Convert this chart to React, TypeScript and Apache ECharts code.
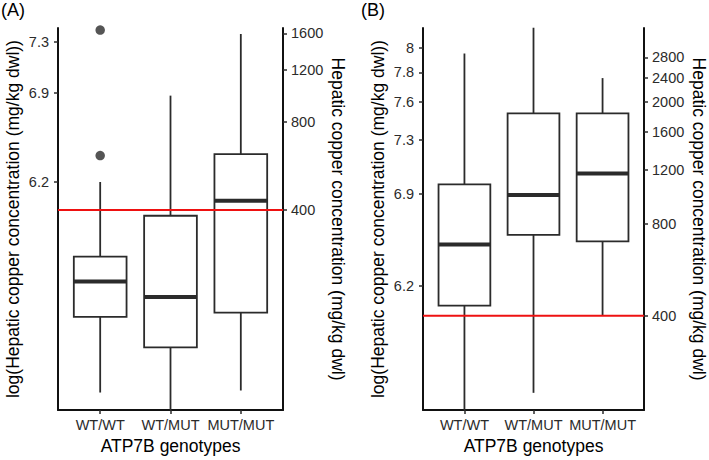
import React, { useEffect, useRef } from "react";
import * as echarts from "echarts";

const CATEGORIES = ["WT/WT", "WT/MUT", "MUT/MUT"];
// [categoryPosition, lowerWhisker, Q1, median, Q3, upperWhisker] in ln(mg/kg dwl)
const BOX_A = [
  [1, 4.558, 5.152, 5.43, 5.625, 6.211],
  [2, 4.42, 4.912, 5.308, 5.946, 6.889],
  [3, 4.574, 5.186, 6.063, 6.43, 7.373],
];
const OUTLIERS_A = [
  [1, 7.404],
  [1, 6.418],
];
const BOX_B = [
  [1, 5.28, 6.069, 6.529, 6.981, 7.966],
  [2, 5.412, 6.601, 6.901, 7.516, 8.16],
  [3, 5.994, 6.552, 7.062, 7.516, 7.781],
];
const OUTLIERS_B: number[][] = [];
const RANGE_A = [4.42, 7.42];
const RANGE_B = [5.282, 8.158];
const LEFT_TICKS_A = [500, 1000, 1500];
const LEFT_TICKS_B = [500, 1000, 1500, 2000, 2500, 3000];
const RIGHT_TICKS_A = [400, 800, 1200, 1600];
const RIGHT_TICKS_B = [400, 800, 1200, 1600, 2000, 2400, 2800];
const THRESHOLD = 400;

const FONT = "Liberation Sans, Arial, sans-serif";
const DARK = "#2b2b2b";

function panel(idx: number, box: number[][], outliers: number[][], range: number[], leftTicks: number[], rightTicks: number[]) {
  const tickStyle = { show: true, length: 4, lineStyle: { color: DARK, width: 1.5 } };
  const axisLineStyle = { show: true, lineStyle: { color: "#111", width: 2 } };
  const labelStyle = { fontSize: 14.5, color: DARK, fontFamily: FONT };
  const nameStyle = { fontSize: 17.5, color: "#000", fontFamily: FONT };
  const xAxis = {
    type: "value",
    gridIndex: idx,
    min: 0.4,
    max: 3.6,
    axisLine: axisLineStyle,
    axisTick: { ...tickStyle, customValues: [1, 2, 3] },
    axisLabel: {
      customValues: [1, 2, 3],
      formatter: (v: number) => CATEGORIES[Math.round(v) - 1],
      ...labelStyle,
      margin: 7,
    },
    splitLine: { show: false },
    name: "ATP7B genotypes",
    nameLocation: "middle",
    nameGap: 19,
    nameTextStyle: nameStyle,
  };
  const yLeft = {
    type: "value",
    gridIndex: idx,
    position: "left",
    min: range[0],
    max: range[1],
    axisLine: axisLineStyle,
    axisTick: { ...tickStyle, customValues: leftTicks.map((t) => Math.log(t)) },
    axisLabel: {
      customValues: leftTicks.map((t) => Math.log(t)),
      formatter: (v: number) => String(Number(v.toFixed(1))),
      ...labelStyle,
      margin: 9,
    },
    splitLine: { show: false },
    name: "log(Hepatic copper concentration (mg/kg dwl))",
    nameLocation: "middle",
    nameGap: 36,
    nameTextStyle: nameStyle,
  };
  const yRight = {
    type: "value",
    gridIndex: idx,
    position: "right",
    min: range[0],
    max: range[1],
    axisLine: axisLineStyle,
    axisTick: { ...tickStyle, customValues: rightTicks.map((t) => Math.log(t)) },
    axisLabel: {
      customValues: rightTicks.map((t) => Math.log(t)),
      formatter: (v: number) => String(Math.round(Math.exp(v))),
      ...labelStyle,
      margin: 8,
    },
    splitLine: { show: false },
    name: "Hepatic copper concentration (mg/kg dwl)",
    nameLocation: "middle",
    nameRotate: -90,
    nameGap: 46,
    nameTextStyle: nameStyle,
  };
  const series = [
    {
      type: "custom",
      xAxisIndex: idx,
      yAxisIndex: idx * 2,
      data: box,
      encode: { x: 0, y: [1, 2, 3, 4, 5] },
      z: 2,
      renderItem: (_p: any, api: any) => {
        const x = api.value(0);
        const lo = api.coord([x, api.value(1)]);
        const q1 = api.coord([x, api.value(2)]);
        const med = api.coord([x, api.value(3)]);
        const q3 = api.coord([x, api.value(4)]);
        const hi = api.coord([x, api.value(5)]);
        const w = api.size([0.75, 0])[0];
        const stroke = { stroke: DARK, lineWidth: 1.8 };
        return {
          type: "group",
          children: [
            { type: "line", shape: { x1: lo[0], y1: lo[1], x2: q1[0], y2: q1[1] }, style: stroke },
            { type: "line", shape: { x1: q3[0], y1: q3[1], x2: hi[0], y2: hi[1] }, style: stroke },
            {
              type: "rect",
              shape: { x: q3[0] - w / 2, y: q3[1], width: w, height: q1[1] - q3[1] },
              style: { fill: "#ffffff", ...stroke },
            },
            {
              type: "line",
              shape: { x1: med[0] - w / 2, y1: med[1], x2: med[0] + w / 2, y2: med[1] },
              style: { stroke: DARK, lineWidth: 4 },
            },
          ],
        };
      },
    },
    {
      type: "scatter",
      xAxisIndex: idx,
      yAxisIndex: idx * 2,
      data: outliers,
      symbolSize: 9.5,
      itemStyle: { color: DARK },
      z: 3,
    },
    {
      type: "line",
      xAxisIndex: idx,
      yAxisIndex: idx * 2,
      data: [
        [0.4, Math.log(THRESHOLD)],
        [3.6, Math.log(THRESHOLD)],
      ],
      symbol: "none",
      lineStyle: { color: "#ee1111", width: 2 },
      z: 4,
    },
  ];
  return { xAxis, yAxes: [yLeft, yRight], series };
}

export default function App() {
  const ref = useRef<HTMLDivElement>(null);
  useEffect(() => {
    if (!ref.current) return;
    const chart = echarts.init(ref.current, undefined, { renderer: "svg" });
    const pA = panel(0, BOX_A, OUTLIERS_A, RANGE_A, LEFT_TICKS_A, RIGHT_TICKS_A);
    const pB = panel(1, BOX_B, OUTLIERS_B, RANGE_B, LEFT_TICKS_B, RIGHT_TICKS_B);
    chart.setOption({
      animation: false,
      backgroundColor: "#ffffff",
      textStyle: { fontFamily: FONT },
      title: [
        { text: "(A)", left: 1, top: 1, padding: 0, textStyle: { fontSize: 18, fontWeight: "normal", color: "#000", fontFamily: FONT } },
        { text: "(B)", left: 361, top: 1, padding: 0, textStyle: { fontSize: 18, fontWeight: "normal", color: "#000", fontFamily: FONT } },
      ],
      grid: [
        { left: 58, top: 28, width: 225, height: 384 },
        { left: 423, top: 28, width: 226, height: 384 },
      ],
      xAxis: [pA.xAxis, pB.xAxis],
      yAxis: [...pA.yAxes, ...pB.yAxes],
      series: [...pA.series, ...pB.series],
    });
    return () => chart.dispose();
  }, []);
  return <div ref={ref} style={{ position: "fixed", left: 0, top: 0, width: 709, height: 460, background: "#fff" }} />;
}
